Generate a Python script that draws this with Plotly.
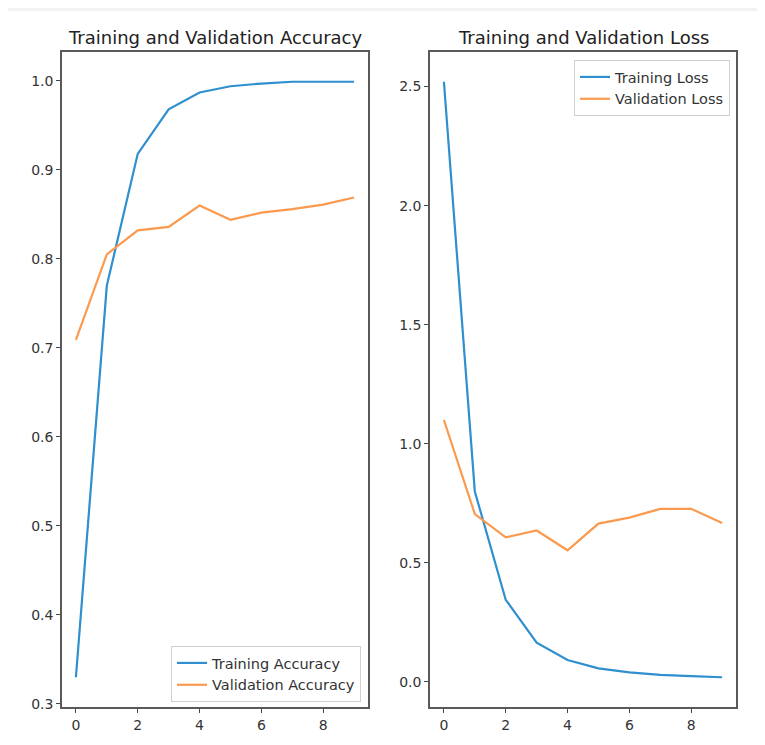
import plotly.graph_objects as go

epochs = [0, 1, 2, 3, 4, 5, 6, 7, 8, 9]
train_acc = [0.330, 0.770, 0.918, 0.968, 0.987, 0.994, 0.997, 0.999, 0.999, 0.999]
val_acc = [0.709, 0.805, 0.832, 0.836, 0.860, 0.844, 0.852, 0.856, 0.861, 0.869]
train_loss = [2.52, 0.80, 0.345, 0.165, 0.092, 0.057, 0.040, 0.030, 0.025, 0.020]
val_loss = [1.10, 0.705, 0.607, 0.636, 0.553, 0.665, 0.690, 0.727, 0.727, 0.667]

acc_ticks = [0.3, 0.4, 0.5, 0.6, 0.7, 0.8, 0.9, 1.0]
loss_ticks = [0.0, 0.5, 1.0, 1.5, 2.0, 2.5]
x_ticks = [0, 2, 4, 6, 8]

BLUE = "#2f8fcf"
ORANGE = "#fb9a4e"
FONT = "DejaVu Sans"
OFF = 8  # page body margin
W, H = 765 - OFF, 745 - OFF
L, R, T, B = 62 - OFF, 736 - OFF, 52 - OFF, 707 - OFF  # plot area in figure pixels
PW, PH = R - L, B - T

fig = go.Figure()
fig.add_trace(go.Scatter(x=epochs, y=train_acc, mode="lines", name="Training Accuracy",
                         line=dict(color=BLUE, width=2.2), xaxis="x", yaxis="y", legend="legend"))
fig.add_trace(go.Scatter(x=epochs, y=val_acc, mode="lines", name="Validation Accuracy",
                         line=dict(color=ORANGE, width=2.2), xaxis="x", yaxis="y", legend="legend"))
fig.add_trace(go.Scatter(x=epochs, y=train_loss, mode="lines", name="Training Loss",
                         line=dict(color=BLUE, width=2.2), xaxis="x2", yaxis="y2", legend="legend2"))
fig.add_trace(go.Scatter(x=epochs, y=val_loss, mode="lines", name="Validation Loss",
                         line=dict(color=ORANGE, width=2.2), xaxis="x2", yaxis="y2", legend="legend2"))

# screen pixel -> paper coordinate
def px_x(p):
    return (p - OFF - L) / PW

def px_y(p):
    return (B - (p - OFF)) / PH

axis_common = dict(showline=True, mirror=True, linecolor="#5a5a5a", linewidth=1.6,
                   showgrid=False, zeroline=False, ticks="outside", ticklen=4,
                   tickwidth=1.2, tickcolor="#444", automargin=False,
                   tickfont=dict(family=FONT, size=14, color="#333"))

def xrange_(vals):
    lo, hi = min(vals), max(vals)
    m = (hi - lo) * 0.05
    return [lo - m, hi + m]

fig.update_layout(
    width=W, height=H,
    margin=dict(l=L, r=W - R, t=T, b=H - B, autoexpand=False),
    paper_bgcolor="white", plot_bgcolor="white",
    font=dict(family=FONT, size=14, color="#333"),
    xaxis=dict(domain=[0, px_x(368)], range=xrange_(epochs), tickvals=x_ticks,
               anchor="y", **axis_common),
    yaxis=dict(domain=[0, 1], range=xrange_(train_acc + val_acc),
               tickvals=acc_ticks, tickformat=".1f", anchor="x", **axis_common),
    xaxis2=dict(domain=[px_x(430), 1], range=xrange_(epochs), tickvals=x_ticks,
                anchor="y2", **axis_common),
    yaxis2=dict(domain=[0, 1], range=xrange_(train_loss + val_loss),
                tickvals=loss_ticks, tickformat=".1f", anchor="x2", **axis_common),
    legend=dict(x=px_x(361), y=px_y(702), xanchor="right", yanchor="bottom",
                bgcolor="rgba(255,255,255,0.8)", bordercolor="#d0d0d0", borderwidth=1,
                font=dict(family=FONT, size=14.5, color="#333"), tracegroupgap=0),
    legend2=dict(x=px_x(730), y=px_y(60), xanchor="right", yanchor="top",
                 bgcolor="rgba(255,255,255,0.8)", bordercolor="#d0d0d0", borderwidth=1,
                 font=dict(family=FONT, size=14.5, color="#333"), tracegroupgap=0),
    showlegend=True,
    annotations=[
        dict(text="Training and Validation Accuracy", x=px_x(215), y=px_y(37),
             xref="paper", yref="paper", xanchor="center", yanchor="middle",
             showarrow=False, font=dict(family=FONT, size=18, color="#222")),
        dict(text="Training and Validation Loss", x=px_x(583), y=px_y(37),
             xref="paper", yref="paper", xanchor="center", yanchor="middle",
             showarrow=False, font=dict(family=FONT, size=18, color="#222")),
    ],
    shapes=[
        dict(type="rect", xref="paper", yref="paper", x0=px_x(OFF), x1=px_x(765),
             y0=px_y(11), y1=px_y(OFF), fillcolor="#f2f2f2", line=dict(width=0), layer="below"),
    ],
)

fig.write_html("out.html")
